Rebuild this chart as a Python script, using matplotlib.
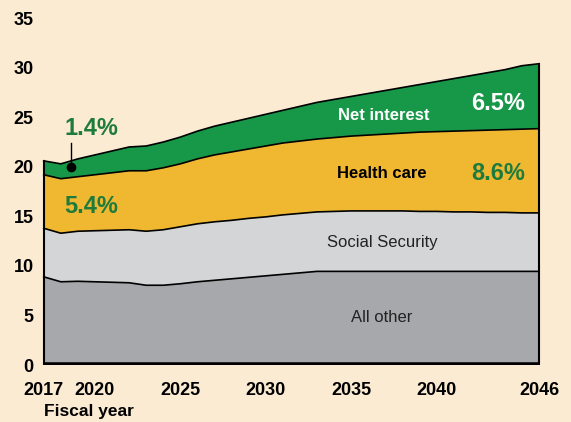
import matplotlib.pyplot as plt

plt.rcParams['font.family'] = ['Liberation Sans', 'DejaVu Sans']

# fiscal years and stacked tops (percent of GDP)
years = list(range(2017, 2047))
all_other_top = [8.9, 8.4, 8.45, 8.4, 8.35, 8.3, 8.05, 8.05, 8.2, 8.4,
                 8.55, 8.7, 8.85, 9.0, 9.15, 9.3, 9.45, 9.45, 9.45, 9.45,
                 9.45, 9.45, 9.45, 9.45, 9.45, 9.45, 9.45, 9.45, 9.45, 9.45]
social_security_top = [13.8, 13.3, 13.5, 13.55, 13.6, 13.65, 13.5, 13.65, 13.95, 14.25,
                       14.45, 14.6, 14.8, 14.95, 15.15, 15.3, 15.45, 15.5, 15.55, 15.55,
                       15.55, 15.55, 15.5, 15.5, 15.45, 15.45, 15.4, 15.4, 15.35, 15.35]
health_care_top = [19.2, 18.8, 19.0, 19.2, 19.4, 19.6, 19.6, 19.9, 20.3, 20.8,
                   21.2, 21.5, 21.8, 22.1, 22.4, 22.6, 22.8, 22.95, 23.1, 23.2,
                   23.3, 23.4, 23.5, 23.55, 23.6, 23.65, 23.7, 23.75, 23.8, 23.85]
net_interest_top = [20.6, 20.3, 20.8, 21.2, 21.6, 22.0, 22.1, 22.5, 23.0, 23.6,
                    24.1, 24.5, 24.9, 25.3, 25.7, 26.1, 26.5, 26.8, 27.1, 27.4,
                    27.7, 28.0, 28.3, 28.6, 28.9, 29.2, 29.5, 29.8, 30.2, 30.4]

xticks = [2017, 2020, 2025, 2030, 2035, 2040, 2046]
yticks = [0, 5, 10, 15, 20, 25, 30, 35]

bg = '#FBEBD3'
green_txt = '#1E7B3C'

fig = plt.figure(figsize=(5.71, 4.22), dpi=100, facecolor=bg)
ax = fig.add_axes([0.0736, 0.135, 0.8734, 0.822])
ax.set_facecolor(bg)

zero = [0] * len(years)
layers = [
    (zero, all_other_top, '#A7A8AB'),
    (all_other_top, social_security_top, '#D4D5D7'),
    (social_security_top, health_care_top, '#F0B731'),
    (health_care_top, net_interest_top, '#179848'),
]
for lo, hi, c in layers:
    ax.fill_between(years, lo, hi, facecolor=c, edgecolor='none')
    ax.plot(years, hi, color='black', lw=1.2)

# side edges and thick base line
ax.plot([years[0], years[0]], [0, net_interest_top[0]], color='black', lw=1.5)
ax.plot([years[-1], years[-1]], [0, net_interest_top[-1]], color='black', lw=1.5)
ax.plot([years[0], years[-1]], [0, 0], color='black', lw=4, solid_capstyle='butt')

ax.set_xlim(2016.9, 2046.1)
ax.set_ylim(0, 35)
ax.set_xticks(xticks)
ax.set_yticks(yticks)
ax.tick_params(length=0, labelsize=13)
ax.tick_params(axis='x', pad=12)
ax.tick_params(axis='y', pad=6)
for lab in ax.get_xticklabels() + ax.get_yticklabels():
    lab.set_fontweight('bold')
for s in ax.spines.values():
    s.set_visible(False)

# annotations
ax.plot([2018.6, 2018.6], [20.0, 22.4], color='black', lw=1)
ax.plot(2018.6, 20.0, 'o', color='black', ms=6)
ax.text(2019.8, 23.9, '1.4%', color=green_txt, fontsize=17, fontweight='bold', ha='center', va='center')
ax.text(2019.8, 16.0, '5.4%', color=green_txt, fontsize=17, fontweight='bold', ha='center', va='center')
ax.text(2036.9, 25.2, 'Net interest', color='white', fontsize=12, fontweight='bold', ha='center', va='center')
ax.text(2043.6, 26.4, '6.5%', color='white', fontsize=17, fontweight='bold', ha='center', va='center')
ax.text(2036.8, 19.3, 'Health care', color='black', fontsize=12, fontweight='bold', ha='center', va='center')
ax.text(2043.6, 19.3, '8.6%', color=green_txt, fontsize=17, fontweight='bold', ha='center', va='center')
ax.text(2036.8, 12.4, 'Social Security', color='#222222', fontsize=12, ha='center', va='center')
ax.text(2036.8, 4.8, 'All other', color='#222222', fontsize=12, ha='center', va='center')

fig.text(0.156, 0.026, 'Fiscal year', fontsize=12.5, fontweight='bold', ha='center', va='center')

fig.savefig('out.png', dpi=100, facecolor=bg)
